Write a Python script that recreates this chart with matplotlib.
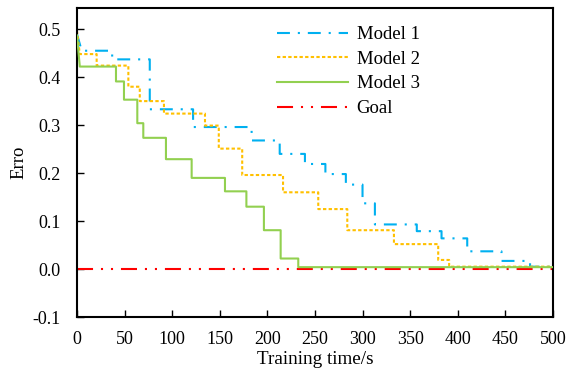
import numpy as np
import matplotlib
matplotlib.use("Agg")
import matplotlib.pyplot as plt

# change points (s) and error level that holds from each point on
t1 = [0, 5, 37, 76.5, 122, 183.5, 213, 239.5, 261, 282.5, 300, 313, 357, 383, 410, 446, 476, 500]
v1 = [0.49, 0.455, 0.437, 0.333, 0.296, 0.268, 0.240, 0.219, 0.198, 0.176, 0.137, 0.093,
      0.079, 0.064, 0.037, 0.017, 0.005, 0.005]

t2 = [0, 3, 20.7, 54, 66, 91.4, 134.5, 149, 173.6, 216.5, 253.5, 284, 333, 379.5, 391, 500]
v2 = [0.497, 0.448, 0.424, 0.380, 0.350, 0.324, 0.299, 0.251, 0.196, 0.160, 0.125, 0.081,
      0.052, 0.019, 0.005, 0.005]

t3 = [0, 3, 41, 49.4, 63.4, 69.7, 93.5, 120.5, 155.5, 178, 196.4, 214, 232.5, 500]
v3 = [0.487, 0.422, 0.391, 0.353, 0.304, 0.2735, 0.229, 0.190, 0.162, 0.130, 0.081,
      0.022, 0.004, 0.004]

goal_t = [0, 500]
goal_v = [0.0, 0.0]

labels = ["Model 1", "Model 2", "Model 3", "Goal"]
xticks = [0, 50, 100, 150, 200, 250, 300, 350, 400, 450, 500]
yticks = [-0.1, 0.0, 0.1, 0.2, 0.3, 0.4, 0.5]


def step_path(t, v):
    # first segment is a straight drop, the rest are steps
    xs = [t[0], t[1]]
    ys = [v[0], v[1]]
    for i in range(2, len(t)):
        xs += [t[i], t[i]]
        ys += [v[i - 1], v[i]]
    return xs, ys


plt.rcParams["font.family"] = ["Liberation Serif", "DejaVu Serif"]
plt.rcParams["axes.unicode_minus"] = False

fig = plt.figure(figsize=(5.7, 3.77), dpi=100)
ax = fig.add_axes([0.135, 0.159, 0.835, 0.821])

lw = 1.5
x, y = step_path(t1, v1)
ax.plot(x, y, color="#00B0F0", lw=lw, linestyle=(0, (6.2, 3.8, 1.0, 3.8)), label=labels[0])
x, y = step_path(t2, v2)
ax.plot(x, y, color="#FFC000", lw=lw, linestyle=(0, (1.6, 1.1)), label=labels[1])
x, y = step_path(t3, v3)
ax.plot(x, y, color="#92D050", lw=lw, linestyle="-", label=labels[2], zorder=3)
ax.plot(goal_t, goal_v, color="#FF0000", lw=lw,
        linestyle=(0, (7.7, 3.8, 1.0, 3.8, 1.0, 3.8)), label=labels[3], zorder=2)

ax.set_xlim(0, 500)
ax.set_ylim(-0.1, 0.545)
ax.set_xticks(xticks)
ax.set_yticks(yticks)
ax.set_yticklabels([f"{v:.1f}" for v in yticks])
ax.tick_params(direction="in", length=5, width=1, labelsize=13, top=False, right=False)
ax.tick_params(axis="x", pad=10)
ax.tick_params(axis="y", pad=12)
for s in ax.spines.values():
    s.set_linewidth(1.5)

ax.set_xlabel("Training time/s", fontsize=13.8, labelpad=2)
ax.set_ylabel("Erro", fontsize=13.5, labelpad=3)

ax.legend(loc="upper left", bbox_to_anchor=(0.42, 0.94), frameon=False, fontsize=13.5,
          handlelength=3.8, handletextpad=0.45, labelspacing=0.4,
          borderpad=0, borderaxespad=0)

fig.savefig("out.png", dpi=100)
